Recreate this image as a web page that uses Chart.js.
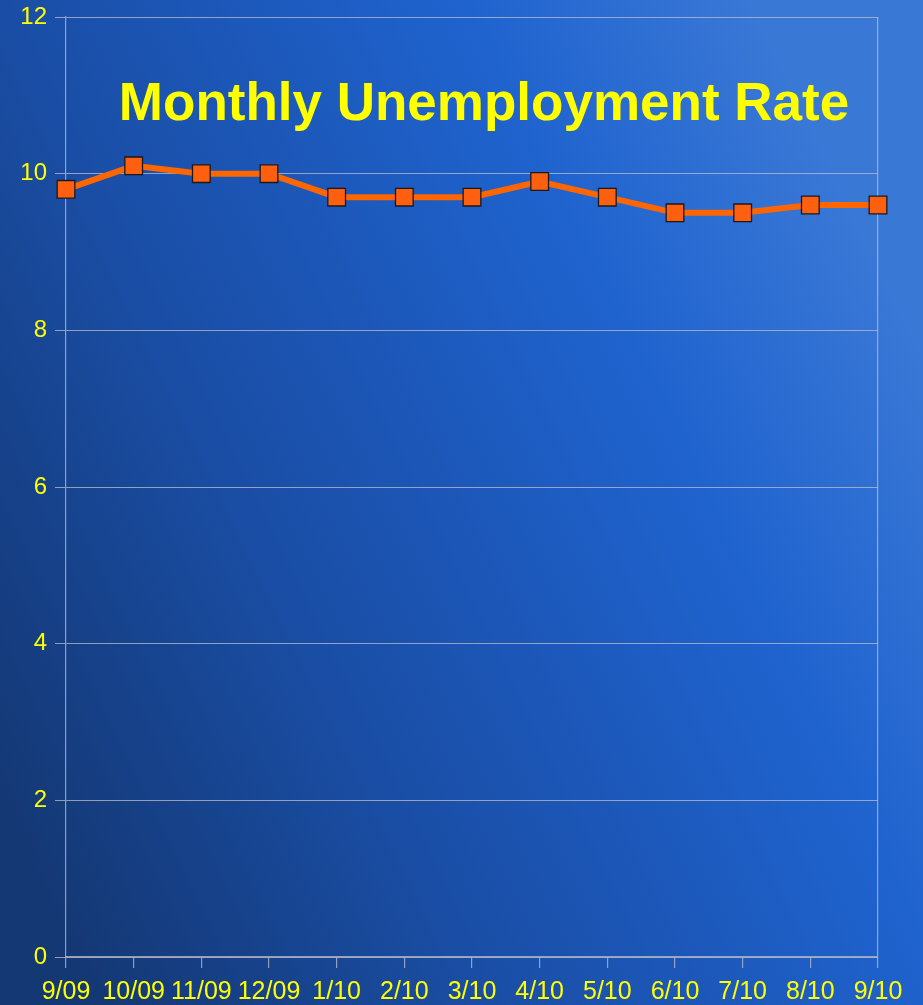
<!DOCTYPE html>
<html>
<head>
<meta charset="utf-8">
<script src="https://cdn.jsdelivr.net/npm/chart.js@4.4.1/dist/chart.umd.min.js"></script>
<style>
  html, body { margin: 0; padding: 0; background: #1a4a9a; }
  #wrap { width: 923px; height: 1005px; }
</style>
</head>
<body>
<div id="wrap"><canvas id="rateChart" width="923" height="1005"></canvas></div>
<script>
const months = ['9/09', '10/09', '11/09', '12/09', '1/10', '2/10', '3/10', '4/10', '5/10', '6/10', '7/10', '8/10', '9/10'];
const rates = [9.8, 10.1, 10.0, 10.0, 9.7, 9.7, 9.7, 9.9, 9.7, 9.5, 9.5, 9.6, 9.6];
const yTicks = [0, 2, 4, 6, 8, 10, 12];
const chartTitle = 'Monthly Unemployment Rate';

const yellow = '#ffff00';
const gridGray = 'rgba(190, 190, 200, 0.75)';

// slide-like blue gradient behind everything
const bgPlugin = {
  id: 'bg',
  beforeDraw(chart) {
    const { ctx, width, height } = chart;
    const g = ctx.createLinearGradient(0, height * 0.8, width, height * 0.35);
    g.addColorStop(0, '#143874');
    g.addColorStop(0.35, '#1a4ea6');
    g.addColorStop(0.75, '#1f63cf');
    g.addColorStop(1, '#3a78d6');
    ctx.save();
    ctx.fillStyle = g;
    ctx.fillRect(0, 0, width, height);
    ctx.restore();
  }
};

// title sits inside the plot area
const titlePlugin = {
  id: 'innerTitle',
  afterDatasetsDraw(chart) {
    const { ctx } = chart;
    ctx.save();
    ctx.font = 'bold 53px "Liberation Sans", Arial, sans-serif';
    ctx.fillStyle = yellow;
    ctx.textAlign = 'center';
    ctx.textBaseline = 'alphabetic';
    ctx.fillText(chartTitle, 484, 120);
    ctx.restore();
  }
};

new Chart(document.getElementById('rateChart'), {
  type: 'line',
  data: {
    labels: months,
    datasets: [{
      data: rates,
      borderColor: '#ff6600',
      borderWidth: 6,
      tension: 0,
      pointStyle: 'rect',
      pointRadius: 12.5,
      pointHoverRadius: 12.5,
      pointBackgroundColor: '#ff6010',
      pointBorderColor: '#1a1a1a',
      pointBorderWidth: 1.3
    }]
  },
  options: {
    responsive: false,
    animation: false,
    events: [],
    layout: { padding: { top: 17, right: 45, left: 0, bottom: 0 } },
    plugins: {
      legend: { display: false },
      tooltip: { enabled: false }
    },
    scales: {
      x: {
        offset: false,
        afterFit(scale) { scale.height = 48; },
        grid: {
          color: ctx => ctx.index === months.length - 1 ? gridGray : 'transparent',
          tickColor: gridGray,
          tickLength: 11,
          lineWidth: 1.2
        },
        border: { color: gridGray, width: 1.5 },
        ticks: {
          color: yellow,
          font: { family: '"Liberation Sans", Arial, sans-serif', size: 25 },
          padding: 9,
          maxRotation: 0,
          autoSkip: false
        }
      },
      y: {
        min: 0,
        max: 12,
        afterFit(scale) {
          scale.width = 66;
          scale.paddingTop = 0;
          scale.paddingBottom = 0;
        },
        afterBuildTicks(scale) { scale.ticks = yTicks.map(v => ({ value: v })); },
        grid: {
          color: gridGray,
          tickColor: gridGray,
          tickLength: 11,
          lineWidth: 1
        },
        border: { color: gridGray, width: 1.2 },
        ticks: {
          color: yellow,
          font: { family: '"Liberation Sans", Arial, sans-serif', size: 24 },
          padding: 8
        }
      }
    }
  },
  plugins: [bgPlugin, titlePlugin]
});
</script>
</body>
</html>
